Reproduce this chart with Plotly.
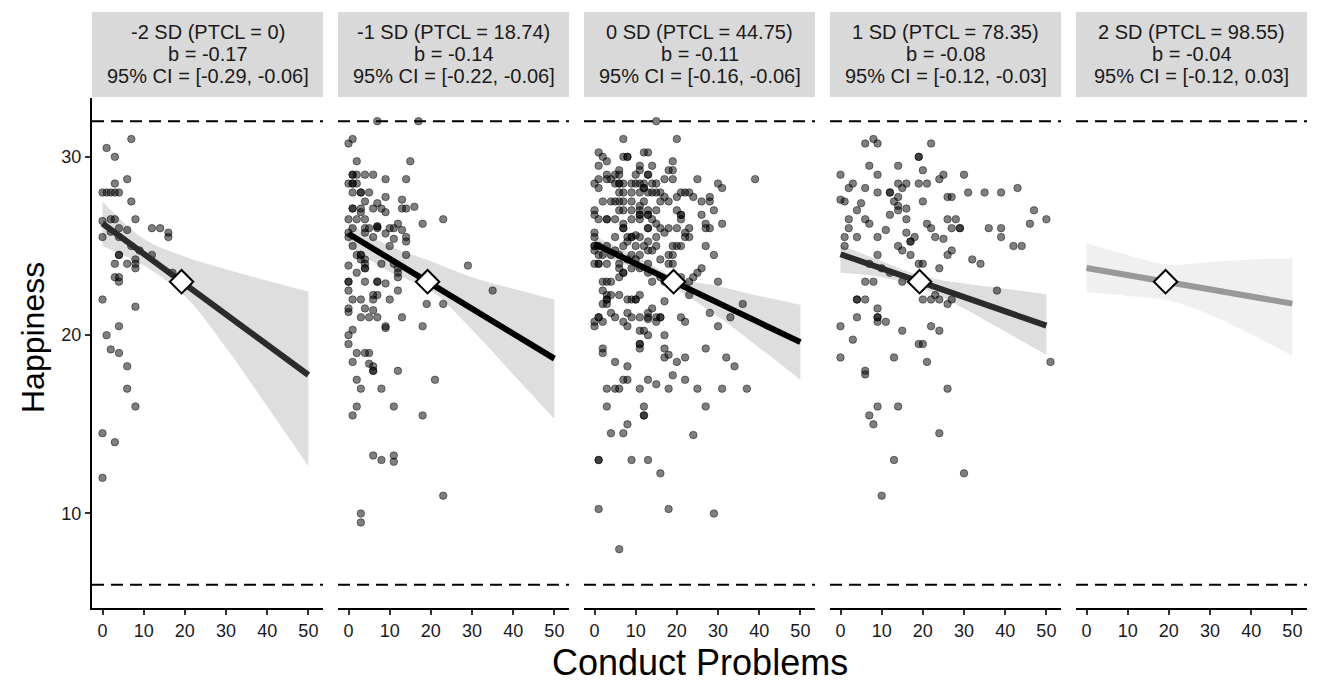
import plotly.graph_objects as go
from plotly.subplots import make_subplots

# ---------------- data ----------------
strip_line1 = ["-2 SD (PTCL = 0)", "-1 SD (PTCL = 18.74)", "0 SD (PTCL = 44.75)",
               "1 SD (PTCL = 78.35)", "2 SD (PTCL = 98.55)"]
strip_line2 = ["b = -0.17", "b = -0.14", "b = -0.11", "b = -0.08", "b = -0.04"]
strip_line3 = ["95% CI = [-0.29, -0.06]", "95% CI = [-0.22, -0.06]", "95% CI = [-0.16, -0.06]",
               "95% CI = [-0.12, -0.03]", "95% CI = [-0.12, 0.03]"]
slopes = [-0.17, -0.14, -0.11, -0.08, -0.04]
center_x = 19.2
center_y = 23.0
line_x = [0, 50]
scale_min = 6
scale_max = 32

p1_x = [7, 1, 3, 3, 6, 0, 1, 2, 3, 4, 7, 2, 3, 8, 0, 4, 2, 6, 12, 14, 16, 16, 0, 4, 7, 9, 4, 4, 12, 3,
        6, 8, 8, 8, 3, 4, 4, 17, 0, 8, 4, 1, 2, 4, 6, 6, 8, 0, 3, 0]
p1_y = [31, 30.5, 30, 28.5, 28.75, 28, 28, 28, 28, 28, 27.5, 26.5, 26.5, 26.5, 26.4, 26, 25.8, 25.9, 26, 26,
        25.75, 25.5, 25.5, 25.5, 25, 24.75, 24.5, 24.5, 24.5, 24, 24, 24.25, 24, 23.75, 23.25, 23.25, 23,
        23.5, 22, 21.6, 20.5, 20, 19.2, 19, 18.25, 17, 16, 14.5, 14, 12]

p2_x = [7, 17, 0, 1, 2, 15, 1, 1, 2, 4, 6, 9, 14, 0, 1, 1, 2, 1, 3, 3, 5, 9, 4, 7, 8, 6, 13, 14, 13, 16,
        1, 1, 3, 3, 9, 0, 2, 4, 23, 18, 12, 1, 4, 5, 7, 7, 7, 10, 11, 13, 0, 0, 4, 9, 6, 11, 14, 14, 1, 10,
        2, 3, 3, 4, 3, 4, 4, 4, 14, 11, 12, 12, 12, 8, 29, 0, 2, 0, 0, 4, 7, 7, 9, 0, 12, 6, 7, 6, 1, 3,
        10, 35, 19, 23, 0, 0, 4, 6, 3, 5, 7, 13, 9, 9, 18, 1, 0, 0, 2, 4, 5, 1, 5, 6, 6, 6, 12, 2, 3, 8,
        21, 2, 1, 11, 18, 6, 8, 11, 11, 23, 3, 3]
p2_y = [32, 32, 30.75, 31, 29.75, 29.75, 29, 29, 29, 29, 29, 28.75, 28.75, 28.5, 28.5, 28.5, 28.5, 28, 28, 28,
        28, 27.75, 27.5, 27.4, 27.1, 27.1, 27.6, 27.1, 27.1, 27.2, 27.1, 27.1, 27.1, 26.9, 26.9, 26.5, 26.5,
        26.5, 26.5, 26.25, 26.25, 26, 26, 26, 26.1, 26.1, 26, 26, 26, 25.9, 25.75, 25.5, 25.75, 25.7, 25.5,
        25.4, 25.5, 25.25, 25, 25, 24.5, 24.5, 24.5, 24.25, 24.25, 23.75, 23.75, 24, 24.5, 24, 23.75, 23.5,
        23.25, 24, 23.9, 23.9, 23.5, 23, 23, 23, 23, 23, 22.9, 22.5, 22.5, 22.25, 22.25, 22, 22, 22, 22,
        22.5, 21.75, 21.75, 21.5, 21.3, 21.5, 21.4, 21, 21, 21, 21, 20.5, 20.4, 20.5, 20.3, 20, 19.5, 19, 19,
        19, 18.5, 18.4, 18.25, 18, 18, 18, 17.5, 17, 17, 17.5, 16, 15.5, 16, 15.5, 13.25, 13, 13.25, 12.9,
        11, 10, 9.5]

p3_x = [15, 7, 20, 1, 2, 3, 7, 8, 8, 12, 13, 19, 1, 11, 14, 11, 18, 19, 3, 5, 6, 6, 10, 13, 13, 0, 1, 3,
        4, 5, 6, 6, 7, 9, 10, 11, 12, 12, 12, 14, 15, 17, 19, 25, 30, 31, 39, 1, 6, 7, 9, 11, 13, 14, 15,
        16, 17, 20, 21, 22, 23, 24, 26, 28, 28, 2, 4, 5, 6, 7, 9, 12, 16, 18, 11, 0, 0, 6, 7, 9, 11, 13,
        15, 20, 21, 21, 21, 26, 29, 1, 3, 3, 5, 7, 7, 7, 9, 11, 11, 11, 13, 13, 13, 14, 15, 16, 13, 18, 20,
        22, 23, 27, 27, 28, 31, 0, 0, 5, 8, 9, 9, 10, 11, 13, 15, 17, 22, 23, 15, 13, 14, 0, 0, 1, 3, 7, 8,
        10, 12, 19, 20, 21, 27, 0, 1, 2, 4, 5, 6, 9, 11, 18, 19, 29, 0, 1, 1, 3, 6, 8, 10, 13, 16, 18, 19,
        6, 9, 11, 7, 7, 6, 13, 14, 16, 17, 19, 21, 23, 24, 25, 26, 30, 2, 3, 4, 2, 3, 4, 3, 3, 3, 2, 6, 8,
        9, 10, 10, 11, 23, 17, 36, 14, 13, 8, 4, 28, 33, 0, 1, 1, 0, 2, 5, 7, 8, 9, 11, 13, 13, 15, 16, 16,
        15, 21, 22, 30, 11, 12, 13, 17, 11, 11, 11, 2, 2, 17, 17, 18, 27, 32, 34, 20, 22, 5, 8, 7, 8, 13,
        15, 19, 22, 3, 5, 6, 11, 18, 25, 31, 37, 3, 12, 27, 12, 12, 8, 4, 7, 24, 1, 1, 9, 13, 16, 1, 18,
        29, 6]
p3_y = [32, 31, 31, 30.25, 30, 29.75, 30, 30, 30, 30.25, 30.25, 29.75, 29.5, 29.5, 29.5, 29.25, 29.25, 29.25,
        29, 29, 29.25, 29, 29, 29, 29, 28.5, 28.75, 28.75, 28.75, 28.5, 28.5, 28.5, 28.5, 28.5, 28.5, 28.5,
        28.25, 28.25, 28.5, 28.5, 28.5, 28.75, 28.75, 28.75, 28.5, 28.25, 28.75, 28.25, 28, 28, 28, 28, 28,
        28, 28, 28, 27.75, 27.75, 28, 28, 28, 27.75, 27.5, 27.75, 27.5, 27.5, 27.5, 27.5, 27.5, 27.5, 27.5,
        27.5, 27.5, 27.5, 27.25, 27, 26.75, 27, 27, 27, 27, 27, 27, 27, 26.75, 26.75, 26.5, 26.75, 27, 26.5,
        26.5, 26.5, 26.5, 26.25, 26, 26, 26.5, 26.75, 26.75, 26.5, 26.75, 26.75, 26, 26.5, 26.25, 26, 26, 26,
        26, 25.75, 26, 26.25, 26, 26, 26.25, 25.75, 25.5, 25.5, 25.5, 25.5, 25.5, 25.6, 25.5, 25.25, 25.5,
        25.75, 25.5, 25.5, 25, 24.75, 24.75, 25, 25, 25, 25, 25, 25.25, 25, 25, 25, 25, 25, 25, 24.75, 24.5,
        24.5, 24.5, 24.75, 24.5, 24.5, 24.5, 24.5, 24.5, 24.5, 24, 24, 24, 24, 24, 24.25, 24.25, 24, 24.25,
        24, 24, 23.75, 23.75, 23.75, 23.5, 23.5, 23.25, 23.5, 23, 23.25, 23, 23.25, 23.25, 23, 23.25, 23.5,
        23.75, 23, 23, 23, 23, 22.5, 22.25, 22.25, 22, 22, 21.75, 21.75, 22.25, 22, 22, 22, 22, 22.25,
        22.25, 21.9, 21.75, 21.5, 21.25, 21.25, 21.25, 21.25, 21, 20.75, 21, 21, 20.5, 20.75, 21, 20.75,
        20.5, 21, 21, 21, 20.9, 21, 21, 21, 20.75, 21, 20.75, 20.5, 20.25, 20.25, 20, 20, 19.5, 19.5, 19.25,
        19.25, 19, 19.25, 18.75, 18.9, 19.25, 18.75, 18.25, 18.5, 18.75, 18.5, 18.25, 17.5, 17.5, 17.5,
        17.25, 17.75, 17.5, 17, 17, 17, 17, 17, 17, 17, 17, 16, 16, 16, 15.5, 15.5, 15, 14.5, 14.5, 14.4,
        13, 13, 13, 13, 12.25, 10.25, 10.25, 10, 8]

p4_x = [6, 8, 9, 22, 19, 19, 7, 14, 20, 0, 9, 30, 24, 25, 3, 2, 6, 14, 16, 15, 19, 21, 9, 12, 12, 14, 31,
        35, 39, 43, 0, 1, 5, 4, 13, 14, 14, 16, 20, 26, 27, 2, 2, 6, 7, 12, 16, 11, 21, 22, 26, 28, 27, 29,
        29, 36, 39, 39, 47, 46, 50, 1, 4, 1, 9, 16, 18, 14, 15, 17, 17, 23, 25, 9, 17, 27, 26, 42, 44, 32,
        34, 7, 19, 20, 24, 10, 12, 6, 8, 15, 23, 22, 20, 24, 26, 27, 38, 4, 4, 6, 9, 9, 9, 9, 11, 4, 0, 15,
        22, 24, 3, 19, 20, 0, 13, 21, 51, 6, 6, 26, 9, 14, 7, 8, 24, 13, 30, 10]
p4_y = [30.75, 31, 30.75, 30.75, 30, 30, 29.5, 29.5, 29.25, 29, 29, 29, 28.75, 29, 28.5, 28.25, 28.25, 28.5,
        28.5, 28.25, 28.5, 28.5, 28, 28, 28, 27.75, 28, 28, 28, 28.25, 27.6, 27.5, 27.4, 27, 27.5, 27.25,
        27, 27.1, 27.5, 27.75, 27.75, 26.5, 26, 26.5, 26.25, 26.75, 26.5, 25.9, 26.25, 26, 26.5, 26.5, 26,
        26, 26, 26, 26, 25.5, 27, 26.25, 26.5, 25.5, 25.5, 25, 25.5, 25.75, 25.5, 25, 24.75, 25.25, 25.25,
        25.5, 25.4, 24.5, 24.5, 24.75, 24.5, 25, 25, 24.25, 24, 24, 24, 24, 23.75, 23.75, 23.5, 23, 23,
        23, 22.25, 22, 22, 22, 21.75, 22, 22.5, 22, 22, 22, 21.5, 21, 21, 20.75, 20.75, 21, 20.5, 20.25,
        20.5, 20.25, 19.75, 19.5, 19.5, 18.75, 18.75, 18.5, 18.5, 18, 17.8, 17, 16, 16, 15.5, 15, 14.5, 13,
        12.25, 11]

points_x = [p1_x, p2_x, p3_x, p4_x, []]
points_y = [p1_y, p2_y, p3_y, p4_y, []]

ribbon_x = [0, 10, 20, 30, 40, 50]
ribbon_upper = [
    [27.5, 25.4, 24.4, 23.7, 23.05, 22.45],
    [26.3, 25.0, 24.15, 23.25, 22.6, 22.0],
    [25.55, 24.45, 23.2, 22.75, 22.2, 21.7],
    [25.05, 24.15, 23.3, 22.9, 22.6, 22.3],
    [25.15, 24.5, 23.95, 24.1, 24.25, 24.3],
]
ribbon_lower = [
    [25.0, 23.9, 22.2, 19.3, 16.0, 12.65],
    [25.0, 23.55, 22.5, 20.3, 17.8, 15.3],
    [24.6, 23.7, 22.55, 21.05, 19.3, 17.5],
    [23.5, 23.25, 22.6, 21.5, 20.2, 18.9],
    [22.4, 22.2, 21.95, 21.15, 20.05, 18.85],
]

# ---------------- styling ----------------
line_colors = ["#2b2b2b", "#000000", "#000000", "#2b2b2b", "#999999"]
ribbon_colors = ["#dedede", "#dedede", "#dedede", "#dedede", "#f0f0f0"]
FONT = "Liberation Sans, Arial, Helvetica, sans-serif"

W, H = 1317, 683
ML, MR, MT, MB = 92, 10, 98, 75
gap = 15
plot_w = W - ML - MR
plot_h = H - MT - MB


def py(p):
    """pixel row (from top) -> paper y"""
    return (H - MB - p) / plot_h


fig = make_subplots(rows=1, cols=5, shared_yaxes=True,
                    horizontal_spacing=gap / plot_w)

for i in range(5):
    col = i + 1
    fig.add_trace(go.Scatter(x=ribbon_x, y=ribbon_lower[i], mode="lines",
                             line=dict(width=0, shape="spline", smoothing=1.0),
                             hoverinfo="skip", showlegend=False), row=1, col=col)
    fig.add_trace(go.Scatter(x=ribbon_x, y=ribbon_upper[i], mode="lines",
                             line=dict(width=0, shape="spline", smoothing=1.0),
                             fill="tonexty", fillcolor=ribbon_colors[i],
                             hoverinfo="skip", showlegend=False), row=1, col=col)
    if points_x[i]:
        fig.add_trace(go.Scatter(x=points_x[i], y=points_y[i], mode="markers",
                                 marker=dict(size=7.5, color="rgba(0,0,0,0.5)",
                                             line=dict(width=1, color="rgba(0,0,0,0.45)")),
                                 showlegend=False), row=1, col=col)
    ly = [center_y + slopes[i] * (x - center_x) for x in line_x]
    fig.add_trace(go.Scatter(x=line_x, y=ly, mode="lines",
                             line=dict(color=line_colors[i], width=6),
                             showlegend=False), row=1, col=col)
    fig.add_trace(go.Scatter(x=[center_x], y=[center_y], mode="markers",
                             marker=dict(symbol="diamond", size=18, color="white",
                                         line=dict(color="black", width=2)),
                             showlegend=False), row=1, col=col)

    xa = "x" if i == 0 else f"x{col}"
    for yv in (scale_min, scale_max):
        fig.add_shape(type="line", xref=f"{xa} domain", yref="y", x0=0, x1=1, y0=yv, y1=yv,
                      line=dict(color="black", width=2, dash="12px,7px"))
    fig.add_shape(type="rect", xref=f"{xa} domain", yref="paper", x0=0, x1=1,
                  y0=py(97), y1=py(12), fillcolor="#d9d9d9", line=dict(width=0), layer="below")
    for txt, row_px in ((strip_line1[i], 32), (strip_line2[i], 54), (strip_line3[i], 76)):
        fig.add_annotation(text=txt, xref=f"{xa} domain", yref="paper",
                           x=0.5, y=py(row_px), showarrow=False,
                           xanchor="center", yanchor="middle",
                           font=dict(family=FONT, size=20, color="#1a1a1a"))

    fig.update_xaxes(row=1, col=col, range=[-2.55, 53.55], tickvals=[0, 10, 20, 30, 40, 50],
                     showline=True, linecolor="black", linewidth=2, ticks="outside",
                     ticklen=5, tickwidth=2, tickcolor="#333333", showgrid=False, zeroline=False,
                     tickfont=dict(family=FONT, size=18, color="#1a1a1a"))
    if i == 0:
        fig.update_yaxes(row=1, col=col, range=[4.7, 33.3], tickvals=[10, 20, 30],
                         showline=True, linecolor="black", linewidth=2, ticks="outside",
                         ticklen=5, tickwidth=2, tickcolor="#333333", showgrid=False,
                         zeroline=False, tickfont=dict(family=FONT, size=18, color="#1a1a1a"))
    else:
        fig.update_yaxes(row=1, col=col, range=[4.7, 33.3], showline=False,
                         showticklabels=False, ticks="", showgrid=False, zeroline=False)

fig.add_annotation(text="Happiness", xref="paper", yref="paper",
                   x=(33 - ML) / plot_w, y=py(338),
                   textangle=-90, showarrow=False, xanchor="center", yanchor="middle",
                   font=dict(family=FONT, size=32, color="black"))
fig.add_annotation(text="Conduct Problems", xref="paper", yref="paper",
                   x=(700 - ML) / plot_w, y=py(662),
                   showarrow=False, xanchor="center", yanchor="middle",
                   font=dict(family=FONT, size=36, color="black"))

fig.update_layout(width=W, height=H, margin=dict(l=ML, r=MR, t=MT, b=MB),
                  paper_bgcolor="white", plot_bgcolor="white", showlegend=False,
                  font=dict(family=FONT))

fig.write_html("out.html", config={"displayModeBar": False},
               post_script="document.body.style.margin='0px';")
